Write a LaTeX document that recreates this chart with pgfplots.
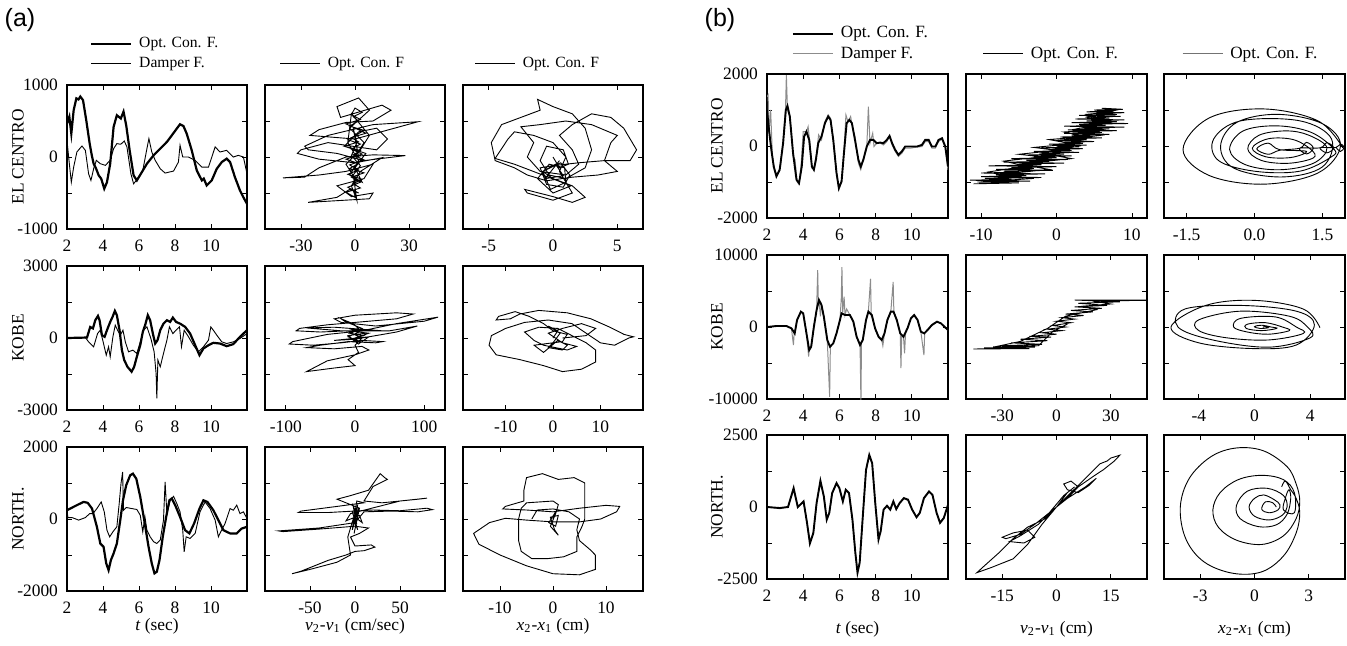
\documentclass[border=0pt]{standalone}
\usepackage{fontspec}
\setmainfont{Liberation Serif}
\setsansfont{Liberation Sans}
\usepackage{pgfplots}
\pgfplotsset{compat=1.18}
\newcommand\tf{\fontsize{8.7}{10}\selectfont}
\newcommand\lfa{\fontsize{7.8}{9}\selectfont}
\newcommand\lfb{\fontsize{8.6}{10}\selectfont}
\pgfplotsset{
 base/.style={scale only axis, width=90pt, height=72pt, anchor=north west,
   scaled x ticks=false, scaled y ticks=false,
   axis line style={line width=0.6pt}, tick style={black, line width=0.4pt},
   major tick length=2.5pt, tick align=inside,
   ticklabel style={font=\tf}, xticklabel style={yshift=-2pt}, yticklabel style={xshift=-1pt},
   yticklabels={}, label style={font=\tf},
   legend image code/.code={\draw[##1] (0pt,0pt) -- (20pt,0pt);},
   legend style={draw=none, fill=none, inner sep=0pt, outer sep=0pt, row sep=0pt, column sep=2pt, nodes={inner sep=1.5pt}},
   legend cell align=left},
 tt/.style={xmin=2,xmax=12,xtick={2,4,6,8,10},xticklabels={2,4,6,8,10}},
 ylab/.style={ylabel={#1}, ylabel style={at={(axis description cs:-0.272,0.5)}, anchor=center}},
 xla/.style={xlabel={#1}, xlabel style={at={(axis description cs:0.5,0)}, anchor=center, yshift=-17.5pt}},
 xlb/.style={xlabel={#1}, xlabel style={at={(axis description cs:0.5,0)}, anchor=center, yshift=-25pt}},
 ya1/.style={ymin=-1000,ymax=1000,ytick={-1000,-500,0,500,1000}},
 ya2/.style={ymin=-3000,ymax=3000,ytick={-3000,-1500,0,1500,3000}},
 ya3/.style={ymin=-2000,ymax=2000,ytick={-2000,-1000,0,1000,2000}},
 yb1/.style={ymin=-2000,ymax=2000,ytick={-2000,-1000,0,1000,2000}},
 yb2/.style={ymin=-10000,ymax=10000,ytick={-10000,-5000,0,5000,10000}},
 yb3/.style={ymin=-2500,ymax=2500,ytick={-2500,-1250,0,1250,2500}},
 thk/.style={black, line width=1.1pt},
 thn/.style={black, line width=0.45pt},
 bopt/.style={black, line width=0.95pt},
 bdam/.style={black!45, line width=0.5pt},
}
\begin{document}
\begin{tikzpicture}
\path[use as bounding box] (0pt,0pt) rectangle (673.5pt,-322.5pt);
\node[font=\sffamily\fontsize{12.5}{14}\selectfont] at (10pt,-10pt) {(a)};
\node[font=\sffamily\fontsize{12.5}{14}\selectfont] at (360pt,-10pt) {(b)};

% ===================== (a) row 1 =====================
\begin{axis}[base, tt, ya1, at={(33.5pt,-42.5pt)}, yticklabels={-1000,,0,,1000}, ylab={EL CENTRO},
  legend style={at={(axis description cs:0.128,1.083)}, anchor=south west, font=\lfa}]
\addplot[thk] coordinates {(2.00,465)(2.13,560)(2.24,325)(2.37,650)(2.52,815)(2.64,800)(2.74,840)(2.89,790)(3.07,510)(3.26,186)(3.38,20)(3.48,-93)(3.60,-150)(3.76,-255)(3.90,-300)(4.07,-440)(4.22,-350)(4.40,-93)(4.59,420)(4.77,580)(4.99,535)(5.14,630)(5.29,440)(5.48,93)(5.70,-255)(5.88,-325)(6.16,-210)(6.44,-93)(6.81,23)(7.18,116)(7.55,210)(7.82,300)(8.10,395)(8.28,455)(8.47,430)(8.65,325)(8.93,93)(9.21,-186)(9.49,-325)(9.60,-300)(9.76,-395)(10.04,-325)(10.32,-163)(10.60,-70)(10.87,-23)(11.06,-70)(11.33,-280)(11.61,-465)(11.80,-560)(12.00,-650)};
\addlegendentry{Opt. Con. F.}
\addplot[thn] coordinates {(2.00,232)(2.11,-46)(2.24,-350)(2.37,-140)(2.55,70)(2.83,153)(3.02,93)(3.20,-233)(3.33,-325)(3.48,-163)(3.63,-46)(3.85,-93)(4.13,-116)(4.40,-46)(4.59,116)(4.77,186)(4.99,177)(5.18,223)(5.33,140)(5.55,-233)(5.70,-372)(5.92,-302)(6.21,-186)(6.44,116)(6.55,256)(6.71,70)(6.90,-46)(7.18,-163)(7.45,-223)(7.92,-195)(8.19,-70)(8.28,163)(8.43,0)(8.74,0)(9.11,-46)(9.49,-140)(9.86,-140)(10.23,140)(10.50,70)(10.87,93)(11.24,0)(11.52,23)(11.80,0)(12.00,-233)};
\addlegendentry{Damper F.}
\end{axis}

\begin{axis}[base, ya1, at={(132.5pt,-42.5pt)}, xmin=-50,xmax=50, xtick={-30,0,30}, xticklabels={-30,0,30},
  legend style={at={(axis description cs:0.083,1.083)}, anchor=south west, font=\lfa}]
\addplot[thn] coordinates {(0,0)(5,200)(-3,400)(8,650)(2,820)(-10,700)(-8,550)(15,720)(20,650)(10,500)(-5,480)(-20,380)(-25,300)(0,250)(35,490)(10,450)(-15,300)(-28,150)(-26,100)(-10,50)(5,-50)(28,20)(10,30)(-5,0)(-20,-150)(-28,-280)(-40,-290)(-20,-250)(-5,-200)(10,-100)(5,-300)(-10,-400)(-2,-550)(10,-500)(8,-580)(-26,-630)(-10,-560)(-3,-450)(2,-500)(-4,-420)(3,-350)(-2,-280)(5,-220)(-3,-160)(2,-90)(-5,-30)(4,40)(-2,110)(3,180)(-4,240)(1,310)(5,370)(-3,430)(2,500)(-1,560)(4,620)(0,680)(-2,590)(3,520)(-5,460)(1,390)(6,330)(-2,270)(2,210)(-6,150)(3,90)(-1,30)(5,-40)(-3,-110)(2,-180)(-4,-240)(4,-310)(-1,-370)(3,-430)(-5,-490)(0,-560)(0,-300)(-5,-100)(3,100)(8,300)(-2,600)(-4,200)(2,-50)(-3,-250)(4,-350)(0,-150)(6,50)(-6,150)(2,350)(12,400)(18,250)(12,100)(-15,200)(-30,100)(-32,50)(-20,-30)(0,-80)(15,-10)(3,-200)(-2,-400)(1,-600)(-1,-250)(3,-120)(-2,20)(1,200)(-1,400)(2,0)};
\addlegendentry{Opt. Con. F}
\end{axis}

\begin{axis}[base, ya1, at={(231.5pt,-42.5pt)}, xmin=-7,xmax=7, xtick={-5,0,5}, xticklabels={-5,0,5},
  legend style={at={(axis description cs:0.066,1.083)}, anchor=south west, font=\lfa}]
\addplot[thn] coordinates {(0,0)(0.5,-150)(1.2,-100)(0.8,100)(-0.5,150)(-1,-50)(-0.3,-250)(1,-300)(2.5,-150)(3,100)(2.5,400)(1.5,600)(0,700)(-1.2,800)(-1,650)(-2.5,550)(-4,450)(-4.8,200)(-4.5,-50)(-3,-150)(-2,-250)(-0.5,-330)(1.5,-280)(3.5,-250)(5,-200)(4,-50)(4.5,200)(5,300)(3,450)(1,500)(-1,450)(-2.5,420)(-1.5,200)(-2,0)(-1,-200)(1,-250)(2,-100)(1.5,100)(0.5,300)(1.5,450)(3,600)(4.5,550)(5.5,400)(6.5,100)(6,-50)(4,-50)(2,-80)(0,-120)(-1,-150)(-0.5,-380)(0.8,-420)(1.3,-250)(0.6,-80)(-0.8,-200)(-0.2,-450)(1.0,-350)(0.9,-150)(-0.3,-100)(-1.2,-300)(0,-500)(1.4,-400)(-3,-100)(-4.5,-20)(-3.5,250)(-3,350)(-1.5,300)(0,200)(1,0)(0.5,-200)(1.5,-500)(0,-600)(-2,-500)(-2.2,-450)(0,-550)(1.5,-630)(2.5,-560)(1.5,-400)(0,-300)(-0.8,-200)(0.2,-100)(0.8,-260)(-0.6,-300)(0.5,-50)};
\addlegendentry{Opt. Con. F}
\end{axis}

% ===================== (a) row 2 =====================
\begin{axis}[base, tt, ya2, at={(33.5pt,-133pt)}, yticklabels={-3000,,0,,3000}, ylab={KOBE}]
\addplot[thk] coordinates {(2.0,0)(3.11,20)(3.29,460)(3.44,400)(3.57,740)(3.72,920)(3.81,740)(3.94,120)(4.09,50)(4.22,325)(4.40,670)(4.53,880)(4.66,1130)(4.77,950)(4.92,325)(5.05,-505)(5.18,-920)(5.36,-1200)(5.59,-1405)(5.73,-1200)(5.88,-780)(6.07,-300)(6.21,255)(6.34,535)(6.49,950)(6.62,740)(6.77,185)(6.90,-230)(7.03,-90)(7.18,325)(7.36,600)(7.55,740)(7.73,670)(7.88,850)(8.06,670)(8.28,600)(8.56,465)(8.84,185)(9.12,-300)(9.36,-715)(9.58,-435)(9.86,-300)(10.13,-200)(10.50,-230)(10.87,-340)(11.24,-255)(11.61,50)(12.0,325)};
\addplot[thn] coordinates {(2.0,0)(3.02,20)(3.20,-160)(3.48,-365)(3.70,190)(3.85,325)(4.03,-230)(4.18,-715)(4.31,-365)(4.40,-780)(4.55,50)(4.68,535)(4.81,325)(4.96,120)(5.11,325)(5.24,-160)(5.42,-575)(5.66,-505)(5.88,-645)(6.10,-90)(6.25,325)(6.44,465)(6.66,-20)(6.84,-575)(6.95,-1475)(6.99,-2515)(7.05,-920)(7.18,-1200)(7.36,-645)(7.55,-90)(7.69,465)(7.88,185)(8.06,325)(8.25,465)(8.36,-365)(8.51,325)(8.75,50)(9.02,-300)(9.30,-575)(9.58,-365)(9.86,-90)(9.99,465)(10.13,325)(10.32,120)(10.60,-160)(10.87,-230)(11.24,-160)(11.61,-20)(12.0,185)};
\end{axis}

\begin{axis}[base, ya2, at={(132.5pt,-133pt)}, xmin=-130,xmax=130, xtick={-100,0,100}, xticklabels={-100,0,100}]
\addplot[thn] coordinates {(0,0)(20,200)(-10,300)(-50,250)(-85,300)(-80,400)(-40,550)(20,700)(60,800)(84,1000)(60,1050)(0,950)(-30,800)(-20,650)(30,500)(100,700)(120,870)(60,600)(10,300)(-40,150)(-90,-150)(-95,-250)(-60,-300)(-20,-200)(10,-100)(40,-150)(30,-200)(-10,-150)(-50,-300)(-70,-400)(-30,-450)(10,-350)(20,-500)(0,-700)(-40,-950)(-70,-1400)(-30,-1250)(0,-1150)(-10,-900)(5,-600)(0,-300)(10,0)(-5,200)(5,400)(-3,600)(-20,800)(-15,700)(10,400)(-8,200)(12,100)(-6,-50)(8,-150)(-10,50)(6,250)(-4,350)(40,300)(-30,450)(-70,420)(-20,300)(50,300)(90,500)(60,250)(0,-50)(-30,-100)(20,50)(5,-250)(-10,100)(15,200)};
\end{axis}

\begin{axis}[base, ya2, at={(231.5pt,-133pt)}, xmin=-19,xmax=19, xtick={-10,0,10}, xticklabels={-10,0,10}]
\addplot[thn] coordinates {(0,0)(1,300)(-1,500)(1.5,200)(0,-200)(-1,-400)(2,-500)(3,-300)(1,-100)(-2,-600)(-4,-300)(2,-150)(3,150)(0,300)(-2,600)(-5,900)(-8,1100)(-11.5,900)(-12,750)(-9,800)(-7,1000)(-3,1150)(3,1050)(8,800)(12,450)(15,150)(17,50)(16,0)(13,-300)(10,-200)(7,200)(4,600)(-1,750)(-6,650)(-10,400)(-13,100)(-13.5,-300)(-12,-700)(-7,-900)(-2,-1150)(2,-1400)(6,-1300)(9,-1000)(9,-500)(7,-200)(4,100)(1,400)(-3,450)(-6,250)(-4,-100)(-2,-300)(3,-500)(5,-350)(2,-200)(-1,200)(2,400)(6,600)(9,400)(7,100)(2,0)};
\end{axis}

% ===================== (a) row 3 =====================
\begin{axis}[base, tt, ya3, at={(33.5pt,-223.5pt)}, yticklabels={-2000,,0,,2000}, ylab={NORTH.}, xla={\textit{t} (sec)}]
\addplot[thk] coordinates {(2.0,245)(2.55,385)(2.92,475)(3.15,450)(3.39,290)(3.66,-215)(3.85,-680)(4.03,-770)(4.18,-1235)(4.31,-1420)(4.44,-1140)(4.59,-955)(4.77,-680)(4.96,-30)(5.11,520)(5.29,940)(5.51,1215)(5.66,1260)(5.85,1120)(6.07,615)(6.29,-30)(6.53,-770)(6.71,-1235)(6.86,-1510)(6.99,-1465)(7.14,-1140)(7.32,-495)(7.51,60)(7.69,520)(7.82,570)(8.01,385)(8.28,60)(8.56,-310)(8.80,-400)(9.06,-125)(9.36,290)(9.58,520)(9.80,475)(10.13,245)(10.41,-30)(10.69,-310)(11.06,-400)(11.43,-400)(11.70,-265)(12.0,-215)};
\addplot[thn] coordinates {(2.0,245)(2.05,40)(2.28,40)(2.65,-30)(3.02,40)(3.26,150)(3.44,150)(3.66,290)(3.90,475)(4.07,200)(4.22,-310)(4.37,-495)(4.55,-355)(4.77,-215)(4.90,430)(5.00,985)(5.09,1305)(5.14,245)(5.29,320)(5.60,290)(5.88,265)(6.07,105)(6.21,-355)(6.33,60)(6.44,-310)(6.62,-495)(6.81,-630)(6.99,-680)(7.18,-585)(7.36,-30)(7.45,1030)(7.55,150)(7.73,520)(7.92,630)(8.10,430)(8.28,200)(8.43,-310)(8.51,-910)(8.62,-495)(8.84,-540)(9.12,-400)(9.39,200)(9.67,475)(9.95,290)(10.23,-30)(10.41,-495)(10.54,-355)(10.78,-125)(11.06,290)(11.24,245)(11.43,385)(11.61,150)(11.80,200)(12.0,15)};
\end{axis}

\begin{axis}[base, ya3, at={(132.5pt,-223.5pt)}, xmin=-100,xmax=100, xtick={-50,0,50}, xticklabels={-50,0,50}, xla={\textit{v}\textsubscript{2}-\textit{v}\textsubscript{1} (cm/sec)}]
\addplot[thn] coordinates {(0,0)(3,400)(-2,-200)(4,300)(-3,-300)(2,500)(10,450)(-20,350)(-60,220)(-63,180)(-30,180)(20,250)(50,230)(80,300)(86,260)(70,200)(40,220)(10,200)(0,-100)(-40,-250)(-85,-330)(-80,-350)(-40,-280)(0,-200)(15,-250)(5,-400)(-5,-500)(0,-750)(18,-720)(22,-780)(10,-880)(0,-900)(-10,-1000)(-30,-1150)(-60,-1450)(-70,-1520)(-50,-1400)(-20,-1200)(-5,-1000)(-8,-500)(-2,0)(3,-300)(-3,200)(2,-150)(-2,350)(3,100)(-1,-400)(5,300)(-20,550)(-5,650)(15,800)(28,1260)(33,1150)(36,1100)(20,900)(10,500)(30,450)(70,550)(80,580)(50,500)(-5,150)(-10,-50)(5,100)(8,-100)(0,50)};
\end{axis}

\begin{axis}[base, ya3, at={(231.5pt,-223.5pt)}, xmin=-17,xmax=17, xtick={-10,0,10}, xticklabels={-10,0,10}, xla={\textit{x}\textsubscript{2}-\textit{x}\textsubscript{1} (cm)}]
\addplot[thn] coordinates {(0,0)(0.5,200)(-0.8,-100)(0.5,-200)(1,100)(-0.5,50)(0.3,-300)(1,-450)(-0.5,-200)(0.5,150)(1,400)(0,500)(-2,480)(-5,450)(-6,300)(-6.5,0)(-6.5,-600)(-6,-900)(-4,-1100)(-1,-1100)(2,-1050)(4.5,-900)(4.5,-500)(5.5,-200)(6,0)(6,600)(6,1000)(4,1150)(1,1100)(-2,1260)(-5,1150)(-5.5,800)(-5.5,500)(-9,350)(-9.5,280)(-5,250)(0,200)(5,300)(10,380)(12.6,350)(12,200)(9,0)(5,-80)(0,-80)(-5,-30)(-9,20)(-12,-100)(-15,-400)(-14,-700)(-10,-1000)(-5,-1300)(0,-1520)(5,-1550)(8,-1400)(8,-1000)(7,-850)(5,-600)(4.5,-300)(5,0)(3,200)(0,280)(-3,250)(-4,0)};
\end{axis}

% ===================== (b) row 1 =====================
\begin{axis}[base, width=90.5pt, tt, yb1, at={(383.5pt,-37pt)}, yticklabels={-2000,,0,,2000}, ylab={EL CENTRO},
  ylabel style={at={(axis description cs:-0.276,0.5)}},
  legend style={at={(axis description cs:0.138,1.069)}, anchor=south west, font=\lfb}]
\addlegendimage{bopt}\addlegendentry{Opt. Con. F.}
\addlegendimage{bdam}\addlegendentry{Damper F.}
\addplot[bdam, forget plot] coordinates {(2.0,1370)(2.06,1420)(2.11,355)(2.20,1000)(2.30,-290)(2.43,-660)(2.55,-800)(2.74,-570)(2.89,170)(3.02,1000)(3.07,1970)(3.13,1000)(3.26,820)(3.44,-290)(3.55,-385)(3.66,-985)(3.77,-1075)(3.89,-475)(4.00,400)(4.18,400)(4.27,540)(4.37,80)(4.48,-615)(4.59,-615)(4.74,-200)(4.85,310)(5.01,170)(5.20,680)(5.38,865)(5.51,770)(5.66,170)(5.84,-750)(5.97,-1215)(6.12,-940)(6.25,-150)(6.36,865)(6.47,680)(6.62,820)(6.73,495)(6.86,265)(7.05,-475)(7.18,-660)(7.32,-385)(7.51,-60)(7.60,1095)(7.69,80)(7.84,355)(7.91,-15)(8.06,80)(8.25,80)(8.43,30)(8.62,125)(8.77,265)(8.91,30)(9.08,-150)(9.26,-290)(9.45,-200)(9.63,-60)(9.91,-60)(10.28,-30)(10.56,-15)(10.74,125)(10.93,125)(11.11,-60)(11.30,-60)(11.48,125)(11.67,190)(11.85,-60)(12.0,-660)};
\addplot[bopt, forget plot] coordinates {(2.0,1000)(2.11,450)(2.24,-105)(2.37,-570)(2.52,-845)(2.70,-660)(2.89,80)(3.04,1000)(3.13,1115)(3.26,820)(3.44,-200)(3.63,-940)(3.77,-1030)(3.92,-570)(4.05,265)(4.18,400)(4.33,170)(4.48,-570)(4.59,-660)(4.70,-385)(4.83,80)(5.01,265)(5.20,635)(5.38,820)(5.51,725)(5.66,170)(5.84,-750)(5.97,-1170)(6.12,-985)(6.25,-200)(6.40,635)(6.55,725)(6.69,635)(6.86,170)(7.05,-385)(7.18,-570)(7.32,-385)(7.51,-15)(7.69,170)(7.88,170)(8.06,80)(8.25,95)(8.43,80)(8.62,170)(8.77,280)(8.91,80)(9.08,-105)(9.26,-245)(9.45,-150)(9.63,-15)(9.91,-15)(10.28,-15)(10.56,30)(10.74,170)(10.93,170)(11.11,-15)(11.30,-15)(11.48,170)(11.67,215)(11.85,-15)(12.0,-570)};
\end{axis}

\begin{axis}[base, width=90.5pt, yb1, at={(483pt,-37pt)}, xmin=-12,xmax=12, xtick={-10,0,10}, xticklabels={-10,0,10},
  legend style={at={(axis description cs:0.094,1.069)}, anchor=south west, font=\lfb}]
\addplot[thn] coordinates {(-11,-1050)(-5,-1025)(-10.5,-1000)(-3.5,-975)(-11.5,-950)(-6,-925)(-9.5,-900)(-2,-875)(-10,-850)(-4,-825)(-8,-800)(-1.5,-775)(-10,-750)(-5,-725)(-7,-700)(-0.5,-675)(-8,-650)(-3,-625)(-6,-600)(0,-575)(-9,-550)(-2,-525)(-5,-500)(1,-475)(-7,-450)(-1,-425)(-4,-400)(1.5,-375)(-6,-350)(0,-325)(-3,-300)(2,-275)(-4,-250)(1,-225)(-2,-200)(3,-175)(-3,-150)(2,-125)(-1,-100)(3.5,-75)(-2,-50)(3,-25)(0,0)(4,25)(-1,50)(3.5,75)(1,100)(5,125)(0,150)(4,175)(1.5,200)(6,225)(0.5,250)(5,275)(2,300)(7,325)(1,350)(6,375)(2,400)(8,425)(1.5,450)(7,475)(3,500)(9,525)(1,550)(6.5,575)(3,600)(9.5,625)(2,650)(8,675)(4,700)(9,725)(2.5,750)(7,775)(4.5,800)(8.5,825)(3,850)(8,875)(5,900)(9,925)(4,950)(7.5,975)(5,1000)(8.8,1020)(6,1050)(8,1000)(4,800)(7,650)(2,450)(6,300)(0,150)(3,0)(-2,-200)(2,-350)(-5,-500)(-1,-650)(-8,-800)(-3,-900)(-10,-1000)(-6,-880)(-9,-720)(-4,-560)(-7,-420)(-2,-300)(-5,-230)(0,-120)(-3,-40)(2,60)(-1,180)(4,260)(1,390)(6,460)(3,560)(7,700)(4,880)(7,940)};
\addlegendentry{Opt. Con. F.}
\end{axis}

\begin{axis}[base, width=90.5pt, yb1, at={(582pt,-37pt)}, xmin=-2,xmax=2, xtick={-1.5,0,1.5}, xticklabels={-1.5,0.0,1.5},
  legend style={at={(axis description cs:0.1,1.069)}, anchor=south west, font=\lfb}]
\addlegendimage{black!55, line width=0.6pt}\addlegendentry{Opt. Con. F.}
\addplot[thn, smooth, tension=0.6, forget plot] coordinates {(1.95,-50)(1.4,700)(0.2,1030)(-1.0,780)(-1.58,-100)(-1.0,-820)(0.2,-1060)(1.4,-750)(1.9,0)(1.5,620)(0.5,880)(-0.4,650)(-0.75,0)(-0.45,-620)(0.6,-860)(1.5,-580)(1.7,200)(1.0,700)(-0.3,700)(-0.9,200)(-0.8,-400)(0,-700)(1.0,-700)(1.7,-300)(1.75,-80)(1.25,380)(0.5,560)(-0.25,420)(-0.55,-100)(-0.2,-520)(0.55,-660)(1.3,-480)(1.6,-50)(1.2,300)(0.7,420)(0.1,300)(-0.15,-80)(0.15,-400)(0.75,-480)(1.3,-330)(1.25,-100)(0.85,180)(0.3,200)(-0.05,-60)(0.25,-300)(0.8,-320)(1.15,-150)(0.55,-100)(0.3,80)(0.05,-80)(0.3,-230)(0.55,-120)(1.0,-60)(1.15,100)(1.3,-60)(1.15,-220)(1.0,-60)(1.45,-50)(1.6,90)(1.75,-50)(1.6,-190)(1.45,-50)(1.8,-40)(1.9,60)(1.98,-40)(1.9,-150)(1.8,-40)};
\end{axis}

% ===================== (b) row 2 =====================
\begin{axis}[base, width=90.5pt, tt, yb2, at={(383.5pt,-127.5pt)}, yticklabels={-10000,,0,,10000}, ylab={KOBE},
  ylabel style={at={(axis description cs:-0.276,0.5)}}]
\addplot[bdam] coordinates {(2.0,0)(2.52,140)(3.07,140)(3.35,-185)(3.46,-2500)(3.50,-900)(3.53,-880)(3.66,970)(3.87,2130)(4.00,1900)(4.18,-880)(4.30,-4100)(4.33,-3200)(4.44,-2730)(4.59,45)(4.74,2360)(4.80,7900)(4.84,3000)(4.87,3750)(4.95,1500)(5.01,3055)(5.14,1435)(5.33,-1805)(5.46,-9700)(5.50,-2700)(5.66,-2270)(5.84,-880)(6.03,970)(6.10,3800)(6.14,8300)(6.18,2000)(6.26,4200)(6.31,1665)(6.40,2500)(6.58,1665)(6.77,740)(6.95,-1340)(7.14,-2500)(7.19,-10500)(7.22,-2000)(7.29,-1805)(7.47,970)(7.60,2130)(7.72,6700)(7.76,1500)(7.79,1665)(7.97,-185)(8.16,-1340)(8.34,-1805)(8.40,-2600)(8.49,-880)(8.65,970)(8.84,2130)(8.97,6250)(9.01,2000)(9.17,970)(9.36,-880)(9.40,-5700)(9.44,-1300)(9.54,-1340)(9.60,-3650)(9.66,-600)(9.76,-185)(9.95,1200)(10.13,1665)(10.32,970)(10.50,-650)(10.67,-3900)(10.71,-880)(10.87,-415)(11.11,280)(11.39,740)(11.61,510)(11.80,45)(12.0,-415)};
\addplot[bopt] coordinates {(2.0,0)(2.52,140)(3.07,140)(3.35,-185)(3.53,-880)(3.66,970)(3.87,2130)(4.00,1900)(4.18,-880)(4.33,-3200)(4.44,-2730)(4.59,45)(4.74,2360)(4.87,3750)(5.01,3055)(5.14,1435)(5.33,-1805)(5.48,-2730)(5.66,-2270)(5.84,-880)(6.03,970)(6.12,1900)(6.31,1665)(6.58,1665)(6.77,740)(6.95,-1340)(7.14,-2500)(7.29,-1805)(7.47,970)(7.60,2130)(7.79,1665)(7.97,-185)(8.16,-1340)(8.34,-1805)(8.49,-880)(8.65,970)(8.84,2130)(8.99,2130)(9.17,970)(9.36,-880)(9.54,-1340)(9.76,-185)(9.95,1200)(10.13,1665)(10.32,970)(10.50,-650)(10.69,-880)(10.87,-415)(11.11,280)(11.39,740)(11.61,510)(11.80,45)(12.0,-415)};
\end{axis}

\begin{axis}[base, width=90.5pt, yb2, at={(483pt,-127.5pt)}, xmin=-50,xmax=50, xtick={-30,0,30}, xticklabels={-30,0,30}]
\addplot[thn] coordinates {(-46,-3050)(-15,-3000)(-40,-2900)(-12,-2800)(-35,-2750)(-12,-2700)(-30,-2600)(-8,-2400)(-25,-2200)(-5,-1900)(-20,-1700)(-3,-1400)(-15,-1300)(0,-1000)(-8,-800)(3,-500)(-5,-300)(5,0)(-2,200)(8,600)(0,800)(10,1100)(3,1300)(15,1600)(5,1800)(20,2100)(8,2300)(25,2600)(10,2800)(28,3000)(12,3300)(35,3500)(10,3750)(60,3750)(20,3600)(30,3200)(15,2900)(22,2400)(5,1500)(-5,-200)(-20,-2000)(-35,-2800)(-10,-2600)(-2,-600)(6,400)};
\end{axis}

\begin{axis}[base, width=90.5pt, yb2, at={(582pt,-127.5pt)}, xmin=-6.5,xmax=6.5, xtick={-4,0,4}, xticklabels={-4,0,4}]
\addplot[thn, smooth, tension=0.6] coordinates {(4.7,-100)(3.5,2500)(0,3700)(-3.5,3000)(-6,0)(-4,-2200)(0,-3000)(3,-2500)(4.3,300)(3,2200)(-1,3000)(-5,2500)(-5.5,0)(-3,-1800)(1,-2800)(4,-1500)(3.8,0)(2.5,1500)(-1,2200)(-4,1000)(-4,-500)(-2,-1500)(1,-1800)(3.5,-900)(3,0)(1.5,1400)(-1,1200)(-1.5,0)(-0.5,-700)(1,-1000)(2.5,-500)(2,0)(0.8,600)(-0.5,400)(-0.6,-200)(0.5,-500)(1.6,-200)(1.2,0)(0.5,250)(0,50)(0.4,-200)(1.0,-100)(0.8,50)(0.6,0)};
\end{axis}

% ===================== (b) row 3 =====================
\begin{axis}[base, width=90.5pt, tt, yb3, at={(383.5pt,-217.5pt)}, yticklabels={-2500,,0,,2500}, ylab={NORTH.},
  ylabel style={at={(axis description cs:-0.276,0.5)}}, xlb={\textit{t} (sec)}]
\addplot[bdam] coordinates {(2.0,20)(2.70,-60)(3.16,10)(3.47,620)(3.70,-20)(3.93,120)(4.02,170)(4.21,-520)(4.37,-1230)(4.56,-880)(4.74,120)(4.95,880)(5.14,350)(5.30,-420)(5.44,-220)(5.60,460)(5.84,800)(6.00,630)(6.19,180)(6.35,580)(6.53,460)(6.72,-420)(6.88,-1560)(7.00,-2250)(7.12,-1900)(7.28,-420)(7.47,1260)(7.65,1780)(7.81,1490)(7.98,120)(8.16,-1100)(8.28,-820)(8.44,-100)(8.63,20)(8.81,-110)(8.98,170)(9.14,-90)(9.33,120)(9.56,290)(9.79,230)(10.02,-110)(10.26,-330)(10.44,-190)(10.67,290)(10.95,520)(11.14,400)(11.37,-190)(11.56,-520)(11.77,-360)(12.0,60)};
\addplot[bopt] coordinates {(2.0,0)(2.70,-35)(3.16,0)(3.47,655)(3.70,0)(3.93,140)(4.02,195)(4.21,-550)(4.37,-1265)(4.56,-900)(4.74,140)(4.95,910)(5.14,370)(5.30,-440)(5.44,-205)(5.60,485)(5.84,830)(6.00,655)(6.19,195)(6.35,600)(6.53,485)(6.72,-440)(6.88,-1590)(7.00,-2280)(7.12,-1935)(7.28,-440)(7.47,1290)(7.65,1810)(7.81,1520)(7.98,140)(8.16,-1130)(8.28,-840)(8.44,-90)(8.63,45)(8.81,-90)(8.98,195)(9.14,-70)(9.33,140)(9.56,310)(9.79,255)(10.02,-90)(10.26,-355)(10.44,-205)(10.67,310)(10.95,540)(11.14,425)(11.37,-205)(11.56,-550)(11.77,-380)(12.0,80)};
\end{axis}

\begin{axis}[base, width=90.5pt, yb3, at={(483pt,-217.5pt)}, xmin=-25,xmax=25, xtick={-15,0,15}, xticklabels={-15,0,15}, xlb={\textit{v}\textsubscript{2}-\textit{v}\textsubscript{1} (cm)}]
\addplot[thn] coordinates {(0,0)(3,500)(5,700)(2,400)(-2,-200)(-6,-600)(-10,-950)(-14,-1100)(-15,-1050)(-12,-900)(-8,-800)(-6,-1050)(-9,-1250)(-13,-1200)(-10,-1000)(-5,-600)(-1,-100)(3,300)(8,700)(10,900)(11,1000)(9,750)(6,500)(3,600)(2,800)(4,900)(6,700)(3,300)(0,0)(-3,-400)(-8,-700)(-12,-1100)(-16,-1600)(-20,-2050)(-22,-2280)(-18,-2100)(-12,-1800)(-8,-1300)(-4,-600)(0,0)(4,500)(8,1000)(12,1500)(14,1600)(15,1700)(17.5,1800)(16,1600)(15,1500)(13,1300)(10,1050)(6,700)(2,200)};
\end{axis}

\begin{axis}[base, width=90.5pt, yb3, at={(582pt,-217.5pt)}, xmin=-5,xmax=5, xtick={-3,0,3}, xticklabels={-3,0,3}, xlb={\textit{x}\textsubscript{2}-\textit{x}\textsubscript{1} (cm)}]
\addplot[thn, smooth, tension=0.6] coordinates {(1.2,0)(1.0,150)(0.6,180)(0.4,-80)(0.8,-200)(1.3,-100)(1.4,80)(1.1,250)(0.5,420)(0.0,300)(-0.3,0)(0.0,-320)(0.8,-450)(1.5,-300)(1.8,0)(1.6,400)(0.7,650)(-0.4,550)(-1.0,50)(-0.8,-400)(0.2,-680)(1.2,-620)(1.8,-250)(2.0,300)(1.9,600)(1.7,300)(1.6,-100)(2.2,-200)(2.2,500)(1.6,950)(0.4,1100)(-0.9,950)(-1.9,500)(-2.3,-100)(-2.0,-700)(-1.0,-1150)(0.4,-1300)(1.6,-1000)(2.3,-400)(2.5,200)(2.3,800)(1.8,1400)(0.5,1950)(-1.0,2050)(-2.4,1750)(-3.6,1000)(-4.1,0)(-3.8,-1100)(-2.8,-1900)(-1.2,-2300)(0.4,-2250)(1.6,-1700)(2.3,-900)(2.5,-200)(2.3,300)(2.0,600)(1.7,900)(1.5,700)};
\end{axis}
\end{tikzpicture}
\end{document}
